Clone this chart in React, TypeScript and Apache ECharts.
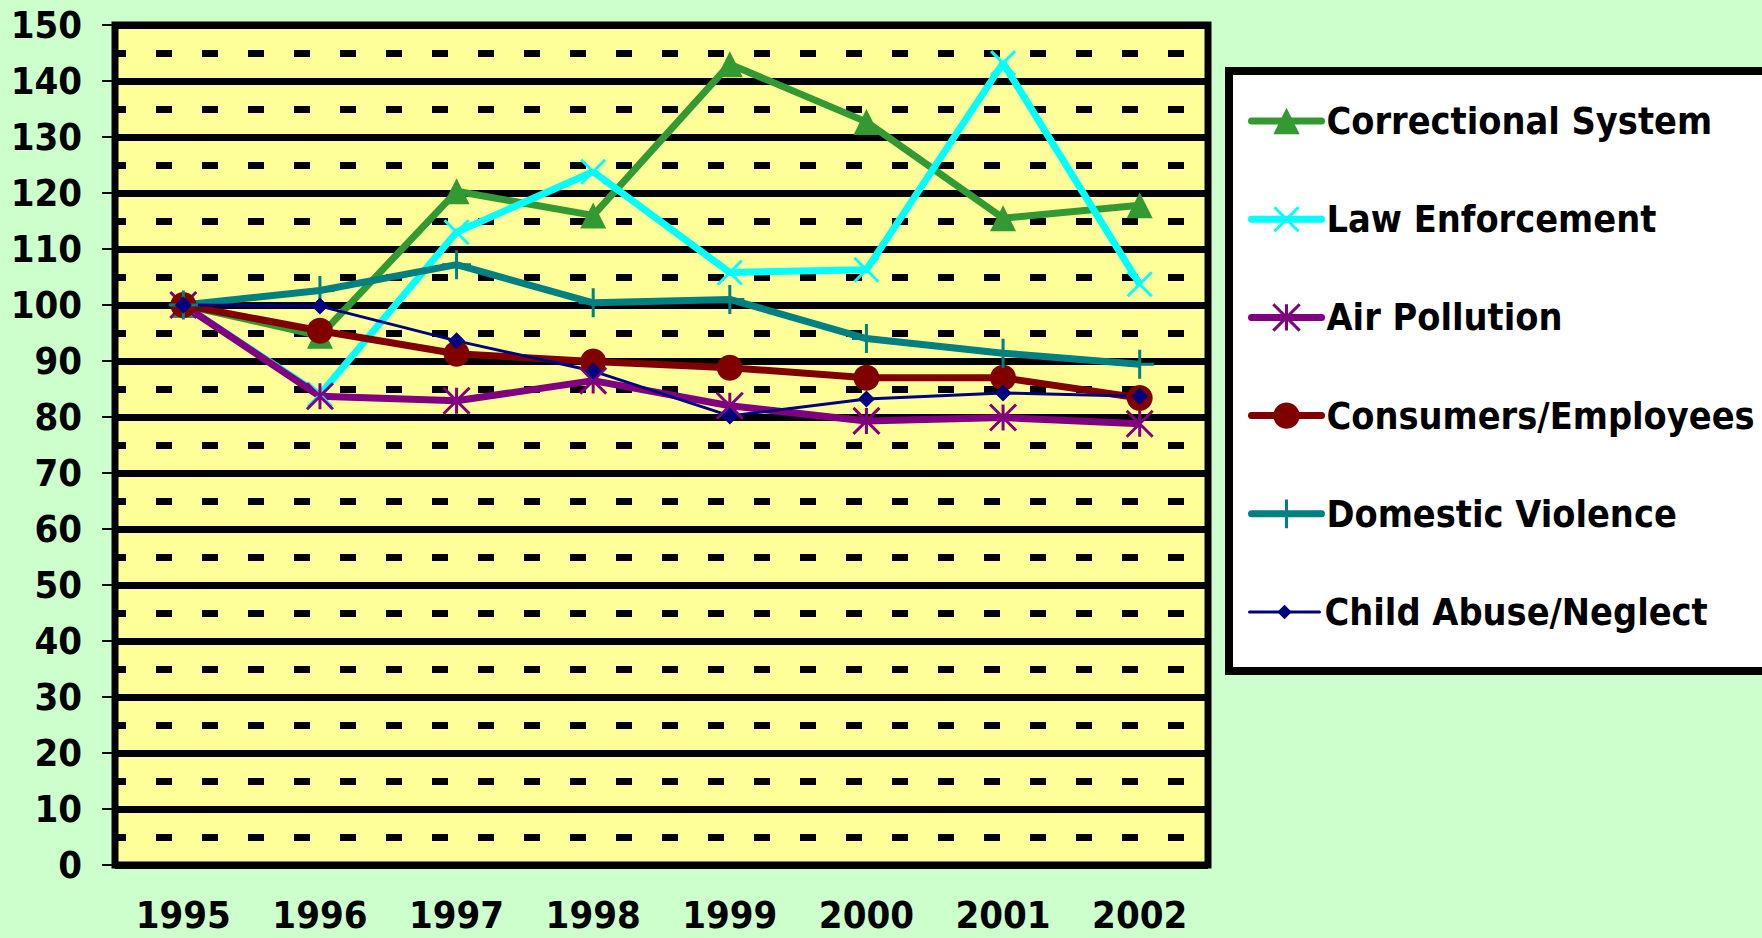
import React, { useEffect, useRef } from "react";
import * as echarts from "echarts";

const years = ["1995", "1996", "1997", "1998", "1999", "2000", "2001", "2002"];
const correctionalSystem = [100, 94.5, 120.3, 116.0, 143.0, 132.7, 115.5, 117.8];
const lawEnforcement = [100, 84.0, 113.0, 123.8, 105.8, 106.3, 143.2, 103.7];
const airPollution = [100, 83.7, 82.9, 86.5, 82.0, 79.3, 79.9, 78.8];
const consumersEmployees = [100, 95.4, 91.3, 89.9, 88.8, 87.0, 87.0, 83.4];
const domesticViolence = [100, 102.6, 107.2, 100.4, 101.0, 94.0, 91.4, 89.4];
const childAbuseNeglect = [100, 99.8, 93.6, 88.2, 80.2, 83.2, 84.3, 83.7];

const FONT = '"DejaVu Sans Condensed", "DejaVu Sans", sans-serif';

const X_PATH = "path://M0,0L10,10M10,0L0,10";
const STAR_PATH = "path://M0,0L10,10M10,0L0,10M5,0L5,10";
const PLUS_PATH = "path://M5,0L5,10M0,5L10,5";

const seriesDefs = [
  { name: "Correctional System", data: correctionalSystem, color: "#339933", symbol: "triangle", size: 26, width: 7, border: 0, legendH: 33 },
  { name: "Law Enforcement", data: lawEnforcement, color: "#00FFFF", symbol: X_PATH, size: 24, width: 7, border: 3, legendH: 30 },
  { name: "Air Pollution", data: airPollution, color: "#800080", symbol: STAR_PATH, size: 26, width: 7, border: 3, legendH: 33 },
  { name: "Consumers/Employees", data: consumersEmployees, color: "#800000", symbol: "circle", size: 26, width: 7, border: 0, legendH: 33 },
  { name: "Domestic Violence", data: domesticViolence, color: "#008080", symbol: PLUS_PATH, size: 29, width: 7, border: 3, legendH: 36 },
  { name: "Child Abuse/Neglect", data: childAbuseNeglect, color: "#000080", symbol: "diamond", size: 17, width: 3, border: 0, legendH: 18 },
];

export default function App() {
  const ref = useRef<HTMLDivElement>(null);
  useEffect(() => {
    if (!ref.current) return;
    const chart = echarts.init(ref.current, undefined, { renderer: "svg" });
    const legendCenter0 = 121;
    const legendStep = 98.2;
    const option = {
      animation: false,
      backgroundColor: "#CCFFCC",
      grid: {
        left: 115,
        right: 554,
        top: 25,
        bottom: 73,
        show: true,
        backgroundColor: "#FFFF99",
        borderColor: "#000000",
        borderWidth: 7,
      },
      xAxis: {
        type: "category",
        data: years,
        boundaryGap: true,
        axisLine: { show: false },
        axisTick: { show: false },
        axisLabel: {
          margin: 33,
          color: "#000",
          fontFamily: FONT,
          fontWeight: "bold",
          fontSize: 38,
          lineHeight: 34,
        },
        splitLine: { show: false },
      },
      yAxis: {
        type: "value",
        min: 0,
        max: 150,
        interval: 10,
        axisLine: { show: false },
        axisTick: { show: true, length: 13, lineStyle: { color: "#000", width: 2 } },
        axisLabel: {
          margin: 33,
          color: "#000",
          fontFamily: FONT,
          fontWeight: "bold",
          fontSize: 38,
        },
        splitLine: { show: true, lineStyle: { color: "#000", width: 7 } },
        minorTick: { show: false, splitNumber: 2 },
        minorSplitLine: {
          show: true,
          lineStyle: { color: "#000", width: 7, type: [16, 30], dashOffset: 5 },
        },
      },
      graphic: [
        {
          type: "rect",
          z: 1,
          shape: { x: 1229, y: 71, width: 700, height: 600 },
          style: { fill: "#FFFFFF", stroke: "#000000", lineWidth: 8 },
        },
      ],
      legend: seriesDefs.map((s, i) => ({
        show: true,
        z: 5,
        orient: "vertical",
        left: 1248,
        top: legendCenter0 + i * legendStep - 20,
        padding: 0,
        itemWidth: 70,
        itemHeight: s.legendH,
        data: [s.name],
        selectedMode: false,
        textStyle: {
          color: "#000",
          fontFamily: FONT,
          fontWeight: "bold",
          fontSize: 37.5,
          lineHeight: 40,
        },
        lineStyle: { width: s.width, cap: "round" },
        itemStyle: { borderWidth: s.border },
      })),
      series: seriesDefs.map((s) => ({
        name: s.name,
        type: "line",
        data: s.data,
        symbol: s.symbol,
        symbolSize: s.size,
        showAllSymbol: true,
        lineStyle: { color: s.color, width: s.width },
        itemStyle: {
          color: s.color,
          borderColor: s.color,
          borderWidth: s.border,
        },
        emphasis: { disabled: true },
        z: 3,
      })),
    };
    chart.setOption(option as any);
    return () => chart.dispose();
  }, []);
  return (
    <div
      ref={ref}
      style={{ position: "fixed", left: 0, top: 0, width: 1762, height: 938 }}
    />
  );
}
